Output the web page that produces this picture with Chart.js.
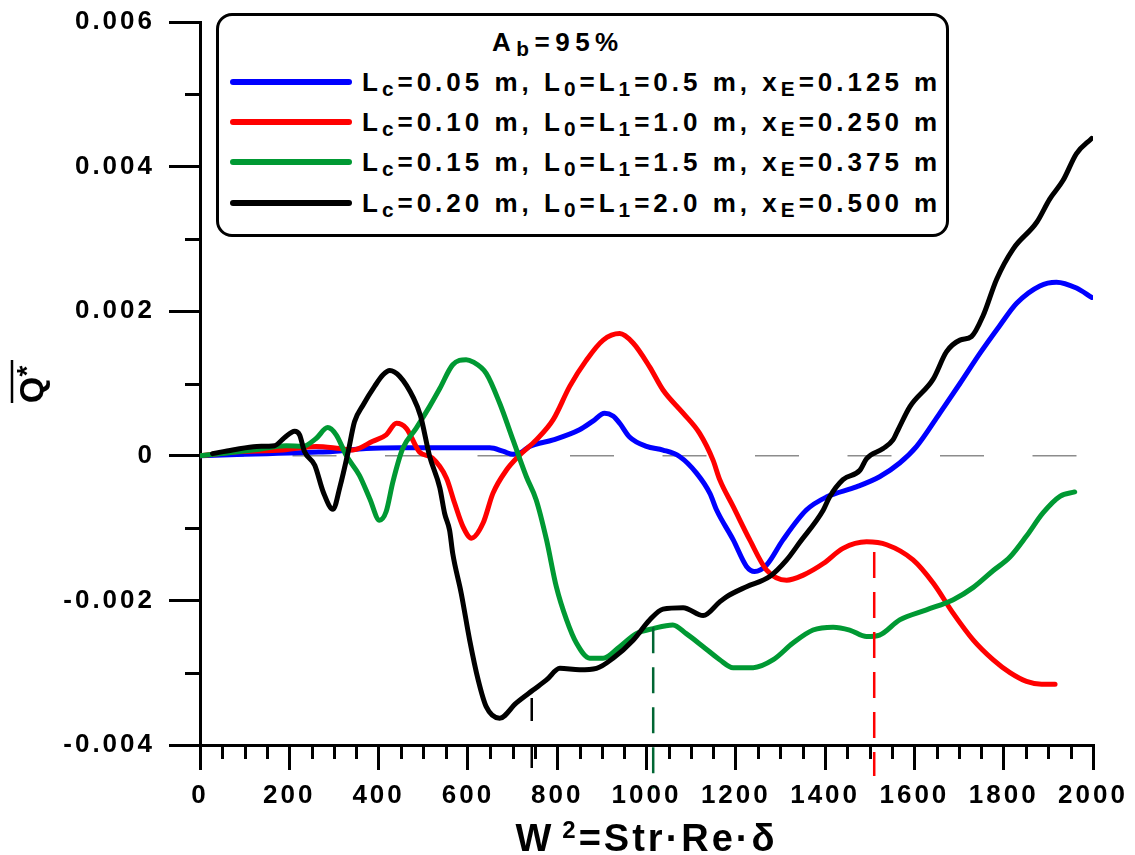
<!DOCTYPE html>
<html lang="en">
<head>
<meta charset="UTF-8">
<title>Q* against W2</title>
<script src="https://cdn.jsdelivr.net/npm/chart.js"></script>
<style>
    body {
        margin: 0;
        background: #fff;
        font-family: 'Liberation Sans', Arial, sans-serif;
    }

    .wrap {
        position: relative;
        width: 1135px;
        height: 855px;
    }

    #legend {
        position: absolute;
        left: 216px;
        top: 13px;
        width: 733px;
        height: 224px;
        box-sizing: border-box;
        border: 3px solid #000;
        border-radius: 16px;
        background: #fff;
        font-weight: bold;
        font-size: 26px;
        letter-spacing: 4px;
        color: #000;
    }

    #legend .row {
        position: absolute;
        left: 0;
        height: 40px;
        line-height: 40px;
        white-space: nowrap;
    }

    #legend .title {
        letter-spacing: 5.5px;
    }

    #legend .swatch {
        position: absolute;
        left: 11px;
        top: 17px;
        width: 122px;
        height: 6px;
        border-radius: 3px;
    }

    #legend .label {
        position: absolute;
        left: 143px;
        top: 0;
    }

    #legend sub {
        font-size: 0.8em;
        vertical-align: -0.25em;
        line-height: 0;
    }
</style>
</head>
<body>
<div class="wrap">
    <canvas id="chart" width="1135" height="855"></canvas>
    <div id="legend"></div>
</div>

<script>
    // W^2 positions and mean Q* for the four geometries
    const w2Blue = [0, 50, 100, 150, 200, 250, 297, 372, 450, 550, 626, 649, 680, 701, 720, 738, 791, 850, 880, 906, 925, 940, 962, 1000, 1037, 1074, 1112, 1142, 1157, 1194, 1224, 1242, 1269, 1306, 1358, 1403, 1470, 1522, 1567, 1605, 1657, 1702, 1747, 1791, 1829, 1881, 1918, 1963, 1997];
    const qBlue = [0, 0.00001, 0.00002, 0.00003, 0.00004, 0.00005, 0.00006, 0.0001, 0.00011, 0.00011, 0.00011, 0.00011, 0.00006, 0.00002, 0.00005, 0.00013, 0.00022, 0.00036, 0.00048, 0.00059, 0.00055, 0.00045, 0.00026, 0.00013, 0.00008, -0.00001, -0.00024, -0.00052, -0.00075, -0.00116, -0.00153, -0.0016, -0.00151, -0.00116, -0.00075, -0.00057, -0.00043, -0.00029, -0.0001, 0.00013, 0.00059, 0.001, 0.00142, 0.0018, 0.00211, 0.00235, 0.0024, 0.00232, 0.00219];

    const w2Red = [0, 73, 186, 260, 313, 342, 387, 417, 440, 462, 492, 520, 552, 570, 589, 608, 634, 656, 686, 716, 753, 791, 828, 865, 903, 940, 970, 1007, 1037, 1082, 1119, 1149, 1164, 1194, 1231, 1269, 1314, 1351, 1396, 1440, 1493, 1538, 1597, 1642, 1687, 1732, 1776, 1814, 1851, 1885, 1915];
    const qRed = [0, 0.00005, 0.00008, 0.00013, 0.0001, 0.00008, 0.0002, 0.00029, 0.00045, 0.00038, 0.00005, -0.00003, -0.00031, -0.00065, -0.00098, -0.00114, -0.00093, -0.00052, -0.0002, 0.00001, 0.00022, 0.0005, 0.00096, 0.00132, 0.0016, 0.00169, 0.00156, 0.00123, 0.00091, 0.00059, 0.00031, -0.00006, -0.00033, -0.0007, -0.00116, -0.00158, -0.00172, -0.00165, -0.00149, -0.00128, -0.00119, -0.00123, -0.00144, -0.00176, -0.00218, -0.00255, -0.00282, -0.003, -0.00312, -0.00316, -0.00316];

    const w2Green = [0, 60, 118, 193, 230, 260, 286, 305, 328, 357, 380, 402, 417, 432, 454, 484, 514, 537, 566, 596, 611, 641, 671, 701, 731, 753, 776, 798, 821, 843, 873, 903, 940, 977, 1015, 1059, 1089, 1127, 1164, 1194, 1239, 1284, 1328, 1373, 1418, 1455, 1493, 1522, 1567, 1627, 1687, 1732, 1776, 1814, 1851, 1888, 1926, 1959];
    const qGreen = [0, 0.00004, 0.00008, 0.00014, 0.00013, 0.00024, 0.00039, 0.00029, 0, -0.00027, -0.00059, -0.00089, -0.00077, -0.00036, 0.0001, 0.00038, 0.00068, 0.00093, 0.00126, 0.00133, 0.0013, 0.00114, 0.00073, 0.00022, -0.00029, -0.00061, -0.00116, -0.00181, -0.00227, -0.00259, -0.0028, -0.0028, -0.00264, -0.00246, -0.00239, -0.00234, -0.00246, -0.00264, -0.00282, -0.00293, -0.00293, -0.00282, -0.00259, -0.00241, -0.00237, -0.00241, -0.0025, -0.00248, -0.00227, -0.00213, -0.00199, -0.00182, -0.00159, -0.0014, -0.00111, -0.00079, -0.00056, -0.0005];

    const w2Black = [28, 73, 127, 167, 189, 212, 223, 234, 257, 276, 298, 313, 332, 346, 365, 391, 410, 425, 447, 478, 494, 514, 537, 548, 559, 566, 585, 604, 623, 641, 671, 708, 746, 776, 806, 850, 888, 925, 970, 1007, 1037, 1082, 1127, 1164, 1179, 1224, 1276, 1314, 1343, 1396, 1410, 1440, 1478, 1493, 1530, 1552, 1565, 1590, 1642, 1672, 1702, 1728, 1754, 1784, 1821, 1874, 1903, 1933, 1963, 1997];
    const qBlack = [0.00003, 0.00008, 0.00013, 0.00014, 0.00025, 0.00034, 0.00029, 0.00006, -0.00013, -0.0005, -0.00074, -0.00044, 0.00006, 0.00047, 0.0007, 0.00096, 0.00112, 0.00118, 0.0011, 0.0008, 0.00055, 0, -0.00044, -0.0008, -0.00103, -0.00135, -0.0019, -0.00255, -0.0031, -0.00347, -0.00363, -0.00342, -0.00324, -0.0031, -0.00294, -0.00296, -0.00294, -0.0028, -0.00255, -0.00227, -0.00212, -0.0021, -0.00221, -0.00202, -0.00195, -0.00181, -0.00167, -0.00144, -0.0012, -0.00075, -0.00057, -0.00033, -0.0002, -0.00004, 0.0001, 0.00022, 0.00038, 0.00068, 0.00106, 0.00144, 0.0016, 0.00165, 0.00194, 0.00244, 0.00286, 0.00323, 0.00355, 0.00381, 0.00418, 0.00439];

    // vertical dashed markers (black, green, red)
    const markerW2 = [743, 1015, 1510];
    const markerTop = [-0.00335, -0.00237, -0.00133];
    const markerBottom = [-0.00435, -0.0046, -0.00443];
    const markerColors = ['#000000', '#006633', '#ff0000'];
    const markerDash = [[23, 24], [26, 14], [26, 14]];

    // legend parameters
    const lcValues = ['0.05', '0.10', '0.15', '0.20'];
    const l0Values = ['0.5', '1.0', '1.5', '2.0'];
    const xeValues = ['0.125', '0.250', '0.375', '0.500'];
    const lineColors = ['#0000ff', '#ff0000', '#009933', '#000000'];
    const blockageText = '95%';

    // axis ticks
    const xMin = 0, xMax = 2000, xMajor = 200, xMinor = 50;
    const yMin = -0.004, yMax = 0.006, yMajor = 0.002, yMinor = 0.001;

    const FONT = "'Liberation Sans', Arial, sans-serif";

    function pts(xs, ys) {
        return xs.map((x, i) => ({ x: x, y: ys[i] }));
    }

    function curve(xs, ys, color, order) {
        return {
            data: pts(xs, ys),
            borderColor: color,
            borderWidth: 5,
            pointRadius: 0,
            cubicInterpolationMode: 'monotone',
            borderCapStyle: 'round',
            borderJoinStyle: 'round',
            fill: false,
            order: order
        };
    }

    const datasets = [];

    // gray dashed zero reference
    datasets.push({
        data: [{ x: xMin, y: 0 }, { x: xMax, y: 0 }],
        borderColor: '#8c8c8c',
        borderWidth: 1.5,
        borderDash: [44, 48.5],
        pointRadius: 0,
        order: 10
    });

    datasets.push(curve(w2Blue, qBlue, lineColors[0], 4));
    datasets.push(curve(w2Red, qRed, lineColors[1], 3));
    datasets.push(curve(w2Green, qGreen, lineColors[2], 2));
    datasets.push(curve(w2Black, qBlack, lineColors[3], 1));

    markerW2.forEach((w, i) => {
        datasets.push({
            data: [{ x: w, y: markerTop[i] }, { x: w, y: markerBottom[i] }],
            borderColor: markerColors[i],
            borderWidth: 2.5,
            borderDash: markerDash[i],
            pointRadius: 0,
            clip: false,
            order: 0
        });
    });

    // short ticks between the labelled ones, plus axis titles
    const axisExtras = {
        id: 'axisExtras',
        beforeUpdate(chart) {
            chart.ctx.letterSpacing = '3px';
        },
        beforeDraw(chart) {
            chart.ctx.letterSpacing = '3px';
        },
        afterDraw(chart) {
            const { ctx, scales: { x, y } } = chart;
            ctx.save();
            ctx.strokeStyle = '#000';
            ctx.lineWidth = 3;
            ctx.beginPath();
            for (let v = xMin; v <= xMax; v += xMinor) {
                if (v % xMajor === 0) continue;
                const px = Math.round(x.getPixelForValue(v)) + 0.5;
                ctx.moveTo(px, x.top);
                ctx.lineTo(px, x.top + 14);
            }
            const nY = Math.round((yMax - yMin) / yMinor);
            for (let i = 0; i <= nY; i++) {
                if (i % 2 === 0) continue;
                const v = yMin + i * yMinor;
                const py = Math.round(y.getPixelForValue(v)) + 0.5;
                ctx.moveTo(y.right, py);
                ctx.lineTo(y.right - 15, py);
            }
            ctx.stroke();

            // x title: W 2=Str·Re·δ, centred under the plot
            ctx.fillStyle = '#000';
            ctx.textBaseline = 'alphabetic';
            ctx.textAlign = 'left';
            ctx.letterSpacing = '3px';
            const big = 'bold 38px ' + FONT;
            const small = 'bold 24px ' + FONT;
            const rest = '=Str\u00b7Re\u00b7\u03b4';
            ctx.font = big;
            const wW = ctx.measureText('W').width;
            const wRest = ctx.measureText(rest).width;
            ctx.font = small;
            const w2 = ctx.measureText('2').width;
            const gap = 8;
            const total = wW + gap + w2 + wRest;
            let tx = (x.left + x.right) / 2 - total / 2;
            const base = 851;
            ctx.font = big;
            ctx.fillText('W', tx, base);
            tx += wW + gap;
            ctx.font = small;
            ctx.fillText('2', tx, base - 13);
            tx += w2;
            ctx.font = big;
            ctx.fillText(rest, tx, base);

            // y title: Q* with overbar
            ctx.translate(34, 390);
            ctx.rotate(-Math.PI / 2);
            ctx.textAlign = 'center';
            ctx.textBaseline = 'middle';
            ctx.letterSpacing = '0px';
            ctx.font = 'bold 34px ' + FONT;
            ctx.fillText('Q', 0, 0);
            ctx.font = 'bold 28px ' + FONT;
            ctx.fillText('*', 19, -6);
            ctx.lineWidth = 2.5;
            ctx.beginPath();
            ctx.moveTo(-13, -22);
            ctx.lineTo(30, -22);
            ctx.stroke();
            ctx.restore();
        }
    };

    const tickFont = { family: FONT, size: 26, weight: 'bold' };

    new Chart(document.getElementById('chart'), {
        type: 'line',
        data: { datasets: datasets },
        options: {
            responsive: false,
            animation: false,
            devicePixelRatio: 1,
            layout: { padding: { left: 0, top: 22, right: 42, bottom: 0 } },
            plugins: {
                legend: { display: false },
                tooltip: { enabled: false }
            },
            scales: {
                x: {
                    type: 'linear',
                    min: xMin,
                    max: xMax,
                    ticks: {
                        stepSize: xMajor,
                        color: '#000',
                        font: tickFont,
                        padding: 10,
                        maxRotation: 0,
                        autoSkip: false,
                        callback: v => String(v)
                    },
                    grid: {
                        drawOnChartArea: false,
                        tickLength: 25,
                        lineWidth: 3,
                        color: '#000'
                    },
                    border: { color: '#000', width: 3 },
                    afterFit(scale) {
                        scale.height = 110;
                        scale.paddingLeft = 0;
                        scale.paddingRight = 0;
                    }
                },
                y: {
                    type: 'linear',
                    min: yMin,
                    max: yMax,
                    ticks: {
                        stepSize: yMajor,
                        color: '#000',
                        font: tickFont,
                        padding: 14,
                        callback: v => Math.abs(v) < 1e-9 ? '0' : v.toFixed(3)
                    },
                    grid: {
                        drawOnChartArea: false,
                        tickLength: 31,
                        lineWidth: 3,
                        color: '#000'
                    },
                    border: { color: '#000', width: 3 },
                    afterFit(scale) {
                        scale.width = 200;
                        scale.paddingTop = 0;
                        scale.paddingBottom = 0;
                    }
                }
            }
        },
        plugins: [axisExtras]
    });

    // legend box with subscripted parameter names
    const legend = document.getElementById('legend');
    const title = document.createElement('div');
    title.className = 'row title';
    title.style.top = '6px';
    title.style.left = '273px';
    title.innerHTML = 'A<sub>b</sub>=' + blockageText;
    legend.appendChild(title);

    const rowTops = [46, 86, 126, 167];
    lcValues.forEach((lc, i) => {
        const row = document.createElement('div');
        row.className = 'row';
        row.style.top = rowTops[i] + 'px';
        row.style.width = '100%';
        row.innerHTML =
            '<div class="swatch" style="background:' + lineColors[i] + '"></div>' +
            '<div class="label">L<sub>c</sub>=' + lc + ' m, L<sub>0</sub>=L<sub>1</sub>=' +
            l0Values[i] + ' m, x<sub>E</sub>=' + xeValues[i] + ' m</div>';
        legend.appendChild(row);
    });
</script>
</body>
</html>
